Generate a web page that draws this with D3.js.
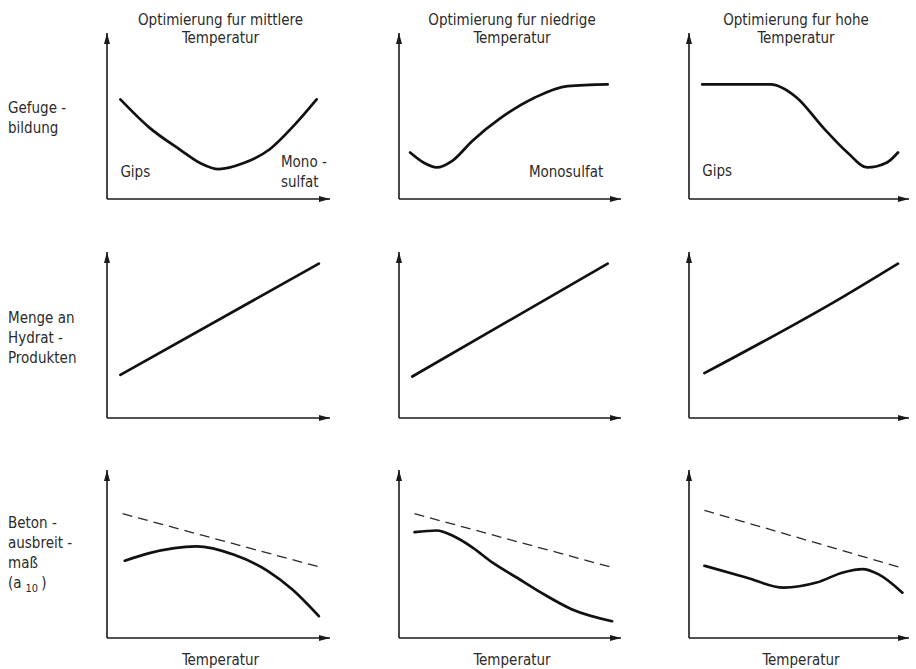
<!DOCTYPE html>
<html>
<head>
<meta charset="utf-8">
<script src="https://cdn.jsdelivr.net/npm/d3@7"></script>
<style>
  html, body { margin: 0; padding: 0; background: #fff; }
  svg text { font-family: "Liberation Sans Narrow", "DejaVu Sans Condensed", "Roboto Condensed", sans-serif; fill: #2b2b2b; }
</style>
</head>
<body>
<div id="chart"></div>
<script>
// column headings and row labels
const columnTitles = [
  ['Optimierung fur mittlere', 'Temperatur'],
  ['Optimierung fur niedrige', 'Temperatur'],
  ['Optimierung fur hohe', 'Temperatur']
];
const rowLabels = [
  ['Gefuge -', 'bildung'],
  ['Menge an', 'Hydrat -', 'Produkten'],
  ['Beton -', 'ausbreit -', 'maß', '(a']
];
const xAxisLabel = 'Temperatur';

// row 1: Gefügebildung (x, y in % of axis length)
const gefugeMittel = [[6, 60], [19, 43], [33, 29.5], [42, 21.5], [50, 18], [61, 21.5], [73, 30], [84, 44.5], [94, 60]];
const gefugeNiedrig = [[5, 28], [11, 22], [17, 19], [24, 23], [33, 35], [46, 49], [61, 61], [76, 68], [94, 69]];
const gefugeHoch = [[6, 69], [37, 69], [49, 61], [61, 43], [72, 28], [81, 19], [90, 22], [95, 28]];

// row 2: Menge an Hydratprodukten
const hydratMittel = [[6, 26], [95, 93]];
const hydratNiedrig = [[6, 25], [94, 93]];
const hydratHoch = [[7, 27], [70, 73], [95, 93]];

// row 3: Betonausbreitmaß, dashed = reference, solid = optimised cement
const ausbreitRefMittel = [[7, 74], [96, 42]];
const ausbreitMittel = [[8, 46], [19, 50.5], [40, 54.5], [57, 49.5], [72, 40], [83, 29], [95, 13]];
const ausbreitRefNiedrig = [[7, 74], [96, 42]];
const ausbreitNiedrig = [[7, 63], [17, 64], [24, 61], [33, 54], [42, 45], [53, 36], [64, 27], [78, 17], [96, 10]];
const ausbreitRefHoch = [[7, 76], [96, 42]];
const ausbreitHoch = [[7, 43], [26, 36], [43, 30], [58, 33], [70, 39], [79, 41], [86, 38], [97, 27]];

// small notes inside the top row
const notes = [
  { col: 0, text: 'Gips', x: 6, y: 13, anchor: 'start' },
  { col: 0, text: 'Mono -', x: 78, y: 19, anchor: 'start' },
  { col: 0, text: 'sulfat', x: 78, y: 7, anchor: 'start' },
  { col: 1, text: 'Monosulfat', x: 92, y: 13, anchor: 'end' },
  { col: 2, text: 'Gips', x: 6, y: 14, anchor: 'start' }
];

const panels = [
  [{ solid: gefugeMittel }, { solid: gefugeNiedrig }, { solid: gefugeHoch }],
  [{ solid: hydratMittel }, { solid: hydratNiedrig }, { solid: hydratHoch }],
  [{ solid: ausbreitMittel, dashed: ausbreitRefMittel },
   { solid: ausbreitNiedrig, dashed: ausbreitRefNiedrig },
   { solid: ausbreitHoch, dashed: ausbreitRefHoch }]
];

const width = 916;
const height = 669;
const colLeft = [107, 399, 689];
const colRight = [330, 621, 909];
const rowTop = [33, 252, 470];
const rowBottom = [199, 418, 638];

const svg = d3.select('#chart')
  .append('svg')
  .attr('width', width)
  .attr('height', height)
  .attr('viewBox', `0 0 ${width} ${height}`);

svg.append('defs')
  .append('marker')
  .attr('id', 'arrow')
  .attr('markerUnits', 'userSpaceOnUse')
  .attr('viewBox', '0 0 11 6')
  .attr('refX', 11)
  .attr('refY', 3)
  .attr('markerWidth', 11)
  .attr('markerHeight', 6)
  .attr('orient', 'auto')
  .append('path')
  .attr('d', 'M0,0 L11,3 L0,6 Z')
  .attr('fill', '#1a1a1a');

const curve = d3.line()
  .x(d => d[0])
  .y(d => d[1])
  .curve(d3.curveMonotoneX);

panels.forEach((row, r) => {
  row.forEach((p, c) => {
    const x = d3.scaleLinear().domain([0, 100]).range([colLeft[c], colRight[c]]);
    const y = d3.scaleLinear().domain([0, 100]).range([rowBottom[r], rowTop[r]]);
    const g = svg.append('g');

    // axes with arrow heads
    g.append('line')
      .attr('x1', x(0)).attr('x2', x(100))
      .attr('y1', y(0)).attr('y2', y(0))
      .attr('stroke', '#1a1a1a')
      .attr('stroke-width', 1.6)
      .attr('marker-end', 'url(#arrow)');
    g.append('line')
      .attr('x1', x(0)).attr('x2', x(0))
      .attr('y1', y(0)).attr('y2', y(100))
      .attr('stroke', '#1a1a1a')
      .attr('stroke-width', 1.6)
      .attr('marker-end', 'url(#arrow)');

    if (p.dashed) {
      g.append('path')
        .attr('d', curve(p.dashed.map(d => [x(d[0]), y(d[1])])))
        .attr('fill', 'none')
        .attr('stroke', '#2a2a2a')
        .attr('stroke-width', 1.3)
        .attr('stroke-dasharray', '10,6');
    }

    g.append('path')
      .attr('d', curve(p.solid.map(d => [x(d[0]), y(d[1])])))
      .attr('fill', 'none')
      .attr('stroke', '#111')
      .attr('stroke-width', 2.7)
      .attr('stroke-linecap', 'round');

    if (r === 0) {
      notes.filter(n => n.col === c).forEach(n => {
        g.append('text')
          .attr('x', x(n.x))
          .attr('y', y(n.y))
          .attr('text-anchor', n.anchor)
          .style('font-size', '15px')
          .text(n.text);
      });
    }

    if (r === 2) {
      g.append('text')
        .attr('x', (x(0) + x(100)) / 2 + 2)
        .attr('y', 665)
        .attr('text-anchor', 'middle')
        .style('font-size', '15px')
        .text(xAxisLabel);
    }
  });
});

// column titles
columnTitles.forEach((lines, c) => {
  const cx = (colLeft[c] + colRight[c]) / 2 + [2, 2, -3][c];
  lines.forEach((t, i) => {
    svg.append('text')
      .attr('x', cx)
      .attr('y', 25 + i * 18)
      .attr('text-anchor', 'middle')
      .style('font-size', '15px')
      .text(t);
  });
});

// row labels
const rowLabelBase = [113, 323, 528];
rowLabels.forEach((lines, r) => {
  lines.forEach((t, i) => {
    const txt = svg.append('text')
      .attr('x', 8)
      .attr('y', rowLabelBase[r] + i * 20)
      .style('font-size', '15px')
      .text(t);
    if (r === 2 && i === 3) {
      txt.append('tspan').attr('dx', 4).attr('dy', 4).style('font-size', '11px').text('10');
      txt.append('tspan').attr('dx', 3).attr('dy', -4).text(')');
    }
  });
});
</script>
</body>
</html>
